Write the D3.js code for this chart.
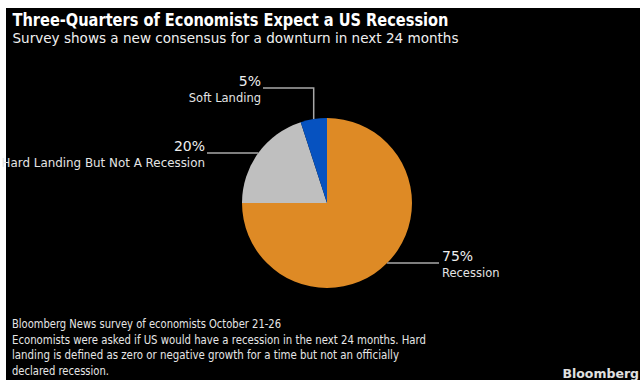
<!DOCTYPE html>
<html>
<head>
<meta charset="utf-8">
<script src="https://cdn.jsdelivr.net/npm/d3@7"></script>
<style>
  html, body { margin: 0; padding: 0; background: #ffffff; }
  svg { display: block; }
</style>
</head>
<body>
<svg id="chart" width="640" height="380"></svg>
<script>
// ---- Data ----
const categories = ["Recession", "Hard Landing But Not A Recession", "Soft Landing"];
const shares = [75, 20, 5];

const titleText = "Three-Quarters of Economists Expect a US Recession";
const subtitleText = "Survey shows a new consensus for a downturn in next 24 months";
const noteLines = [
  "Bloomberg News survey of economists October 21-26",
  "Economists were asked if US would have a recession in the next 24 months. Hard",
  "landing is defined as zero or negative growth for a time but not an officially",
  "declared recession."
];
const sourceText = "Bloomberg";

// ---- Layout & style ----
const W = 640, H = 380;
const cx = 327, cy = 203, radius = 85;
const condensed = "'DejaVu Sans Condensed', 'DejaVu Sans', sans-serif";
const regular = "'DejaVu Sans', sans-serif";

const color = d3.scaleOrdinal()
  .domain(categories)
  .range(["#de8a25", "#bfbfbf", "#0652c0"]);

// Leader-line layout per slice: optional vertical rise, then horizontal run to endX
const leader = {
  "Recession": { rise: 0, endX: 439, anchor: "start", size: 11.5 },
  "Hard Landing But Not A Recession": { rise: 0, endX: 207, anchor: "end", size: 11.9 },
  "Soft Landing": { rise: 31, endX: 263, anchor: "end", size: 11.5 }
};

const svg = d3.select("#chart");

// Frame: white edge with black panel
svg.append("rect").attr("width", W).attr("height", H).attr("fill", "#ffffff");
svg.append("rect").attr("x", 6).attr("y", 8).attr("width", W - 6).attr("height", H - 8).attr("fill", "#000000");

// Title and subtitle
svg.append("text")
  .attr("x", 12.5).attr("y", 25.5)
  .attr("font-family", condensed).attr("font-weight", "bold").attr("font-size", 17.5)
  .attr("fill", "#ffffff")
  .attr("textLength", 436).attr("lengthAdjust", "spacingAndGlyphs")
  .text(titleText);

svg.append("text")
  .attr("x", 12.5).attr("y", 42.5)
  .attr("font-family", regular).attr("font-size", 14.5)
  .attr("fill", "#f0f0f0")
  .attr("textLength", 446).attr("lengthAdjust", "spacingAndGlyphs")
  .text(subtitleText);

// Pie
const data = categories.map((c, i) => ({ category: c, value: shares[i] }));
const pie = d3.pie().value(d => d.value).sort(null).startAngle(0).endAngle(2 * Math.PI);
const arcs = pie(data);
const arc = d3.arc().innerRadius(0).outerRadius(radius);

const g = svg.append("g").attr("transform", `translate(${cx},${cy})`);
g.selectAll("path.slice")
  .data(arcs)
  .join("path")
  .attr("class", "slice")
  .attr("d", arc)
  .attr("fill", d => color(d.data.category));

// Leader lines and labels
arcs.forEach(a => {
  const mid = (a.startAngle + a.endAngle) / 2;
  const x0 = cx + radius * Math.sin(mid);
  const y0 = cy - radius * Math.cos(mid);
  const L = leader[a.data.category];
  const yElbow = y0 - L.rise;
  const pts = L.rise > 0
    ? [[x0, y0], [x0, yElbow], [L.endX, yElbow]]
    : [[x0, y0], [L.endX, y0]];

  svg.append("path")
    .attr("d", d3.line()(pts))
    .attr("fill", "none")
    .attr("stroke", "#a8a8a8")
    .attr("stroke-width", 1.5);

  const tx = L.anchor === "end" ? L.endX - 2 : L.endX + 3;
  svg.append("text")
    .attr("x", tx).attr("y", yElbow - 2.5)
    .attr("text-anchor", L.anchor)
    .attr("font-family", regular).attr("font-size", 14)
    .attr("fill", "#eeeeee")
    .text(`${a.data.value}%`);
  svg.append("text")
    .attr("x", tx).attr("y", yElbow + 14)
    .attr("text-anchor", L.anchor)
    .attr("font-family", regular).attr("font-size", L.size)
    .attr("fill", "#e4e4e4")
    .text(a.data.category);
});

// Notes
const noteWidths = [269, 414, 387, 97];
noteLines.forEach((line, i) => {
  svg.append("text")
    .attr("x", 12).attr("y", 328 + i * 15.5)
    .attr("font-family", condensed).attr("font-size", 11.5)
    .attr("fill", "#e6e6e6")
    .attr("textLength", noteWidths[i]).attr("lengthAdjust", "spacingAndGlyphs")
    .text(line);
});

// Source mark
svg.append("text")
  .attr("x", 639).attr("y", 378)
  .attr("text-anchor", "end")
  .attr("font-family", regular).attr("font-weight", "bold").attr("font-size", 12.5)
  .attr("fill", "#e0e0e0")
  .text(sourceText);
</script>
</body>
</html>
